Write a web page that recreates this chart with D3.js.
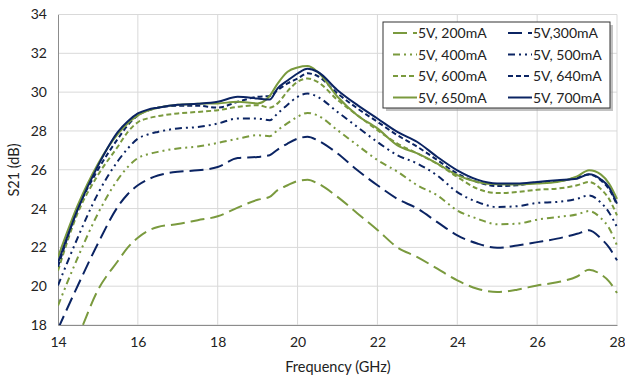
<!DOCTYPE html>
<html>
<head>
<meta charset="utf-8">
<script src="https://cdn.jsdelivr.net/npm/d3@7"></script>
<style>
  html, body { margin: 0; padding: 0; background: #fff; }
  svg { display: block; font-family: Lato, "Open Sans", sans-serif; }
</style>
</head>
<body>
<svg id="chart" width="625" height="378"></svg>
<script>
const freq = [14, 14.5, 15, 15.5, 15.75, 16, 16.25, 16.5, 17, 17.5, 18, 18.5, 19, 19.3, 19.5, 19.75, 20, 20.25, 20.5, 21, 21.5, 22, 22.5, 23, 23.5, 24, 24.5, 25, 25.5, 26, 26.5, 27, 27.3, 27.6, 27.8, 28];

const s200 = [15.2, 17.4, 19.8, 21.3, 22.0, 22.5, 22.85, 23.05, 23.2, 23.4, 23.6, 24.05, 24.45, 24.6, 24.95, 25.2, 25.42, 25.48, 25.3, 24.6, 23.75, 22.9, 22.0, 21.5, 20.9, 20.3, 19.87, 19.7, 19.82, 20.04, 20.2, 20.5, 20.85, 20.6, 20.25, 19.65];
const s300 = [17.8, 20.05, 22.2, 24.1, 24.75, 25.2, 25.5, 25.7, 25.9, 25.97, 26.14, 26.6, 26.66, 26.75, 27.04, 27.35, 27.6, 27.7, 27.52, 26.84, 25.97, 25.2, 24.5, 24.0, 23.3, 22.62, 22.2, 21.98, 22.1, 22.27, 22.45, 22.7, 22.88, 22.45, 22.0, 21.33];
const s400 = [19.0, 21.5, 23.74, 25.5, 26.15, 26.6, 26.8, 26.92, 27.1, 27.2, 27.38, 27.6, 27.78, 27.73, 28.04, 28.4, 28.73, 28.93, 28.8, 28.04, 27.26, 26.5, 25.9, 25.2, 24.68, 23.9, 23.48, 23.19, 23.22, 23.43, 23.56, 23.7, 23.87, 23.5, 23.0, 22.1];
const s500 = [20.04, 22.53, 24.77, 26.45, 27.1, 27.6, 27.82, 27.95, 28.13, 28.2, 28.38, 28.64, 28.64, 28.55, 28.9, 29.35, 29.76, 29.93, 29.76, 28.98, 28.2, 27.43, 26.75, 26.32, 25.7, 24.85, 24.34, 24.08, 24.12, 24.29, 24.34, 24.5, 24.68, 24.3, 23.8, 23.05];
const s600 = [20.8, 23.8, 25.72, 27.2, 27.95, 28.45, 28.65, 28.76, 28.9, 28.98, 29.07, 29.24, 29.33, 29.2, 29.42, 30.05, 30.53, 30.7, 30.53, 29.6, 28.81, 28.04, 27.35, 26.84, 26.3, 25.63, 25.03, 24.8, 24.85, 24.97, 25.03, 25.2, 25.37, 25.0, 24.5, 23.65];
const s640 = [21.0, 24.0, 26.0, 27.6, 28.3, 28.8, 29.05, 29.2, 29.3, 29.3, 29.2, 29.5, 29.76, 29.8, 30.1, 30.45, 30.7, 30.97, 30.83, 29.93, 29.16, 28.47, 27.78, 27.18, 26.5, 25.8, 25.37, 25.16, 25.2, 25.35, 25.4, 25.6, 25.75, 25.45, 25.0, 24.2];
const s650 = [21.5, 24.2, 26.3, 27.85, 28.4, 28.8, 29.05, 29.2, 29.35, 29.4, 29.42, 29.5, 29.42, 29.8, 30.44, 31.05, 31.27, 31.34, 31.05, 29.76, 28.8, 28.13, 27.26, 26.84, 26.32, 25.72, 25.37, 25.25, 25.24, 25.29, 25.37, 25.66, 25.97, 25.75, 25.29, 24.5];
const s700 = [21.2, 24.0, 26.2, 27.95, 28.5, 28.9, 29.1, 29.2, 29.35, 29.4, 29.5, 29.76, 29.67, 29.62, 30.19, 30.6, 30.96, 31.2, 31.05, 30.1, 29.33, 28.64, 27.95, 27.43, 26.66, 25.97, 25.49, 25.29, 25.29, 25.37, 25.46, 25.54, 25.77, 25.5, 25.1, 24.25];

const seriesNames = ["5V, 200mA", "5V,300mA", "5V, 400mA", "5V, 500mA", "5V, 600mA", "5V, 640mA", "5V, 650mA", "5V, 700mA"];
const seriesValues = [s200, s300, s400, s500, s600, s640, s650, s700];

const xTicks = [14, 16, 18, 20, 22, 24, 26, 28];
const yTicks = [18, 20, 22, 24, 26, 28, 30, 32, 34];

const GREEN = "#7a9a3e", NAVY = "#0b2463";
const styles = [
  { color: GREEN, dash: "14,6" },
  { color: NAVY,  dash: "14,6" },
  { color: GREEN, dash: "7,4,2,4,2,4" },
  { color: NAVY,  dash: "7,4,2,4,2,4" },
  { color: GREEN, dash: "5,3" },
  { color: NAVY,  dash: "5,3" },
  { color: GREEN, dash: null },
  { color: NAVY,  dash: null }
];

const svg = d3.select("#chart");
const L = 58, R = 617, T = 14.5, B = 325;
const x = d3.scaleLinear().domain([14, 28]).range([L, R]);
const y = d3.scaleLinear().domain([18, 34]).range([B, T]);

// gridlines
svg.append("g").selectAll("line").data(yTicks).join("line")
  .attr("x1", L).attr("x2", R).attr("y1", d => y(d)).attr("y2", d => y(d))
  .attr("stroke", "#d9d9d9").attr("stroke-width", 1);
svg.append("g").selectAll("line").data(xTicks.slice(1)).join("line")
  .attr("x1", d => x(d)).attr("x2", d => x(d)).attr("y1", T).attr("y2", B)
  .attr("stroke", "#d9d9d9").attr("stroke-width", 1);

// axes
const yAxis = d3.axisLeft(y).tickValues(yTicks).tickSize(0).tickPadding(11);
const gy = svg.append("g").attr("transform", `translate(${L},0)`).call(yAxis);
gy.select(".domain").attr("stroke", "#8c8c8c");
gy.selectAll("text").attr("font-size", 14).attr("fill", "#222").attr("font-family", "Lato, sans-serif");

const xAxis = d3.axisBottom(x).tickValues(xTicks).tickSize(0).tickPadding(12);
const gx = svg.append("g").attr("transform", `translate(0,${B})`).call(xAxis);
gx.select(".domain").attr("stroke", "#8c8c8c");
gx.selectAll("text").attr("font-size", 14).attr("fill", "#222").attr("font-family", "Lato, sans-serif");

// axis titles
svg.append("text").attr("x", 338).attr("y", 372).attr("text-anchor", "middle")
  .attr("font-size", 14.5).attr("fill", "#222").text("Frequency (GHz)");
svg.append("text").attr("transform", "translate(19,170) rotate(-90)").attr("text-anchor", "middle")
  .attr("font-size", 14.5).attr("fill", "#222").text("S21 (dB)");

// clip
svg.append("clipPath").attr("id", "plotclip").append("rect")
  .attr("x", L).attr("y", T - 2).attr("width", R - L + 2).attr("height", B - T + 2);

const line = d3.line().x(d => x(d[0])).y(d => y(d[1])).curve(d3.curveMonotoneX);
const gLines = svg.append("g").attr("clip-path", "url(#plotclip)");
seriesValues.forEach((vals, i) => {
  const pts = freq.map((f, j) => [f, vals[j]]);
  gLines.append("path").datum(pts).attr("d", line)
    .attr("fill", "none").attr("stroke", styles[i].color).attr("stroke-width", 2)
    .attr("stroke-dasharray", styles[i].dash);
});

// legend
const lgX = 383, lgY = 22, lgW = 227, lgH = 86;
svg.append("rect").attr("x", lgX + 3).attr("y", lgY + 3).attr("width", lgW).attr("height", lgH)
  .attr("fill", "#9a9a9a").attr("opacity", 0.6);
svg.append("rect").attr("x", lgX).attr("y", lgY).attr("width", lgW).attr("height", lgH)
  .attr("fill", "#fff").attr("stroke", "#333").attr("stroke-width", 1);
const colX = [393, 508];
const rowY = [33, 54.5, 76, 97.5];
seriesNames.forEach((name, i) => {
  const cx = colX[i % 2], cy = rowY[Math.floor(i / 2)];
  svg.append("line").attr("x1", cx).attr("x2", cx + 24).attr("y1", cy).attr("y2", cy)
    .attr("stroke", styles[i].color).attr("stroke-width", 2).attr("stroke-dasharray", styles[i].dash);
  svg.append("text").attr("x", cx + 25).attr("y", cy + 5).attr("font-size", 14).attr("fill", "#222").text(name);
});
</script>
</body>
</html>
